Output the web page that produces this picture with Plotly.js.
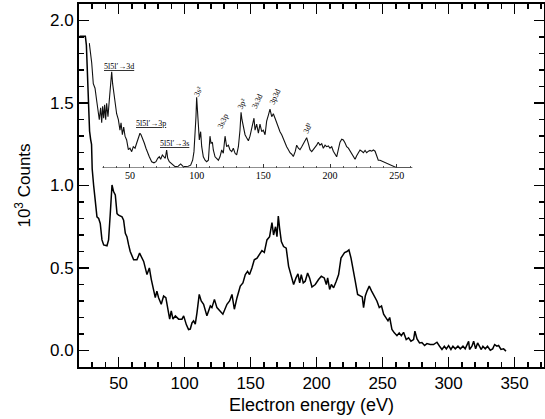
<!DOCTYPE html>
<html>
<head>
<meta charset="utf-8">
<script src="https://cdn.plot.ly/plotly-3.0.1.min.js"></script>
<style>html,body{margin:0;padding:0;background:#fff;}#chart{width:545px;height:419px;}</style>
</head>
<body>
<div id="chart"></div>
<script>
// Main spectrum: electron energy (eV) and counts (10^3)
const mainEnergy = [20.5,24.8,25.6,26.1,26.8,27.3,28.0,28.8,29.5,30.0,30.6,31.1,32.3,33.6,34.9,36.1,37.4,38.7,41.2,42.4,43.7,45.0,46.2,47.5,48.8,50.0,52.6,53.8,55.1,56.3,57.6,58.8,61.4,63.9,65.9,67.7,69.0,71.5,73.3,74.8,76.5,77.8,79.0,80.3,82.3,84.1,85.8,87.4,88.7,89.9,91.2,93.0,95.5,98.0,99.3,101.3,103.0,104.3,105.6,106.8,108.1,109.4,111.1,112.6,114.4,116.9,119.5,120.7,122.6,124.5,127.0,129.0,132.1,134.1,135.9,137.7,139.7,142.2,144.2,146.0,147.7,149.2,151.0,152.8,154.9,156.8,158.6,160.4,162.4,164.4,166.2,167.4,168.9,170.0,171.0,172.0,173.3,175.0,177.0,178.8,180.6,182.6,184.4,185.9,187.2,188.4,189.9,191.4,193.2,194.7,196.5,199.0,201.5,203.6,205.8,207.4,208.4,209.9,211.2,212.9,214.9,216.7,218.5,220.0,221.2,223.0,224.5,226.1,227.6,229.3,231.1,233.1,234.6,235.6,236.9,238.2,239.9,241.7,243.7,245.7,247.5,249.2,250.8,252.5,254.1,255.4,257.1,258.9,260.9,262.6,264.2,265.9,267.9,269.7,271.5,273.5,274.5,276.1,278.0,279.8,281.8,283.6,286.1,288.6,291.2,293.2,295.0,296.8,298.3,300.0,301.8,303.3,305.1,307.1,308.9,310.9,312.6,314.4,315.2,315.9,317.7,319.0,320.5,322.0,323.5,324.8,326.0,327.8,329.5,331.6,333.4,334.9,336.6,337.9,339.7,341.7,343.5];
const mainCounts = [1.905,1.905,1.85,1.75,1.58,1.45,1.33,1.28,1.25,1.10,1.02,1.00,0.91,0.81,0.80,0.77,0.67,0.64,0.635,0.67,0.83,1.003,0.963,0.943,0.83,0.82,0.81,0.79,0.71,0.69,0.64,0.60,0.55,0.55,0.59,0.56,0.54,0.46,0.50,0.43,0.36,0.32,0.36,0.32,0.28,0.33,0.32,0.25,0.19,0.24,0.19,0.21,0.19,0.19,0.21,0.157,0.127,0.13,0.167,0.18,0.16,0.23,0.34,0.30,0.28,0.21,0.27,0.26,0.31,0.26,0.24,0.22,0.28,0.30,0.34,0.25,0.32,0.39,0.41,0.46,0.48,0.46,0.50,0.55,0.56,0.58,0.606,0.594,0.67,0.69,0.775,0.70,0.75,0.69,0.815,0.74,0.66,0.63,0.62,0.51,0.45,0.40,0.44,0.465,0.41,0.46,0.41,0.42,0.47,0.44,0.385,0.40,0.43,0.45,0.44,0.40,0.44,0.37,0.40,0.38,0.42,0.46,0.56,0.58,0.594,0.60,0.61,0.56,0.48,0.42,0.34,0.33,0.325,0.26,0.33,0.36,0.39,0.36,0.33,0.30,0.26,0.27,0.22,0.20,0.18,0.20,0.127,0.107,0.09,0.107,0.09,0.11,0.066,0.077,0.056,0.066,0.117,0.07,0.046,0.048,0.03,0.042,0.036,0.036,0.05,0.026,0.006,0.026,0.01,0.03,0.006,0.026,0.01,0.026,0.01,0.026,0.01,0.042,0.056,0.006,0.026,0.056,0.01,0.046,0.026,0.006,0.026,0.01,0.026,0.002,0.01,0.036,0.026,0.03,0.006,0.01,-0.004];

// Inset spectrum: energy (eV) and relative intensity (arbitrary units)
const insetEnergy = [19.5,21.3,22.5,23.8,25.0,26.3,27.0,28.0,28.8,29.5,30.3,31.0,31.8,32.5,33.5,34.5,35.5,36.3,37.0,38.0,39.0,40.0,41.3,42.5,43.3,44.3,45.3,46.3,47.5,48.8,50.0,51.3,52.5,53.8,55.0,56.3,57.5,58.3,59.5,60.8,62.0,63.3,64.5,66.3,68.0,69.5,70.8,72.0,73.0,74.3,75.5,76.5,77.5,78.3,79.5,81.3,83.8,86.2,88.0,90.0,92.0,93.7,95.5,97.0,98.0,98.8,99.5,100.0,100.5,101.3,102.0,103.0,103.8,105.0,106.3,107.5,108.8,110.0,110.8,111.8,112.5,113.8,115.0,116.3,117.5,118.8,120.0,121.3,122.5,123.8,125.0,126.3,127.5,128.8,130.0,131.3,132.5,133.3,134.0,135.0,136.3,137.5,138.8,140.0,141.3,142.5,143.0,143.8,145.0,146.3,147.5,148.8,150.0,151.3,152.5,153.8,155.0,156.3,157.5,158.8,160.0,161.3,162.5,163.8,165.0,166.3,167.5,168.8,170.0,171.3,172.5,174.0,175.0,176.3,177.5,178.8,180.0,181.3,182.5,183.8,185.0,186.3,187.5,188.8,190.0,191.2,192.5,193.8,195.0,196.3,197.5,198.8,200.0,201.3,202.5,205.0,206.3,207.5,208.8,210.0,211.3,212.5,213.8,215.0,216.3,217.5,218.8,220.0,221.3,222.5,223.8,225.0,226.3,227.5,228.8,230.0,231.3,232.5,233.8,235.0,236.2,237.5,240.0,242.5,245.0,247.5,250.0,261.3];
const insetIntensity = [0.83,0.70,0.56,0.53,0.45,0.36,0.32,0.40,0.30,0.41,0.33,0.42,0.32,0.43,0.34,0.45,0.54,0.64,0.56,0.50,0.43,0.36,0.32,0.25,0.30,0.22,0.27,0.21,0.185,0.12,0.13,0.107,0.14,0.13,0.163,0.196,0.23,0.22,0.185,0.163,0.13,0.096,0.073,0.04,0.033,0.04,0.063,0.073,0.056,0.085,0.073,0.063,0.118,0.063,0.04,0.025,0.007,0.01,0.025,0.007,0.007,0.01,0.017,0.05,0.107,0.21,0.34,0.47,0.41,0.25,0.185,0.24,0.14,0.073,0.05,0.04,0.05,0.21,0.163,0.17,0.118,0.073,0.063,0.05,0.073,0.118,0.096,0.21,0.14,0.15,0.118,0.107,0.13,0.096,0.085,0.14,0.25,0.37,0.32,0.27,0.22,0.20,0.18,0.21,0.27,0.30,0.33,0.25,0.29,0.23,0.29,0.24,0.25,0.22,0.31,0.35,0.39,0.34,0.36,0.33,0.30,0.27,0.24,0.22,0.19,0.165,0.14,0.12,0.10,0.09,0.075,0.11,0.15,0.13,0.12,0.14,0.16,0.18,0.20,0.16,0.12,0.107,0.12,0.14,0.15,0.17,0.15,0.16,0.13,0.15,0.14,0.145,0.13,0.14,0.11,0.073,0.12,0.17,0.19,0.185,0.165,0.14,0.13,0.11,0.09,0.075,0.056,0.08,0.10,0.118,0.11,0.10,0.115,0.10,0.11,0.115,0.11,0.118,0.11,0.08,0.05,0.05,0.04,0.03,0.02,0.011,0.0,0.0];

// Inset tick labels
const insetTicks = [50,100,150,200,250];
const insetMinorTicks = [30,40,60,70,80,90,110,120,130,140,160,170,180,190,210,220,230,240,260];

// Inset peak labels
const labelText = ["<u>5l5l′→3d</u>","<u>5l5l′→3p</u>","<u>5l5l′→3s</u>","3s²","3s3p","3p²","3s3d","3p3d","3d²"];
const labelEnergy = [42.0,65.4,83.2,101.4,119.4,134.4,145.5,158.9,183.5];
const labelLevel = [0.673,0.298,0.161,0.505,0.311,0.425,0.44,0.474,0.268];
const labelAngle = [0,0,0,-65,-65,-65,-65,-65,-65];

const xRange = [20, 372.3];
const yRange = [-0.1, 2.1];

const traces = [
  {x: mainEnergy, y: mainCounts, mode: 'lines', line: {color: '#000', width: 1.5}, xaxis: 'x', yaxis: 'y', hoverinfo: 'skip'},
  {x: insetEnergy, y: insetIntensity, mode: 'lines', line: {color: '#111', width: 1.1}, xaxis: 'x2', yaxis: 'y2', hoverinfo: 'skip'},
  {x: [], y: [], mode: 'lines', xaxis: 'x3', yaxis: 'y3', hoverinfo: 'skip'},
  {x: [], y: [], mode: 'lines', xaxis: 'x4', yaxis: 'y4', hoverinfo: 'skip'}
];

const annotations = labelText.map((t, i) => ({
  text: t, x: labelEnergy[i], y: labelLevel[i], xref: 'x2', yref: 'y2',
  showarrow: false, textangle: labelAngle[i],
  font: {family: 'Liberation Serif', size: 8, color: '#000'},
  xanchor: 'center', yanchor: 'middle'
}));

const base = {tickwidth: 1.5, tickcolor: '#000', showgrid: false, zeroline: false, ticks: 'inside'};

const layout = {
  width: 545, height: 419,
  margin: {l: 79, r: 1, t: 4, b: 52},
  paper_bgcolor: '#fff', plot_bgcolor: 'rgba(0,0,0,0)',
  showlegend: false,
  font: {family: 'Liberation Sans', color: '#000'},
  xaxis: Object.assign({}, base, {
    domain: [0, 1], range: xRange, anchor: 'y',
    showline: true, linewidth: 2, linecolor: '#000', mirror: true,
    ticklen: 10, tick0: 0, dtick: 50,
    minor: {tick0: 0, dtick: 10, ticks: 'inside', ticklen: 5, tickwidth: 1.5, tickcolor: '#000'},
    tickfont: {family: 'Liberation Sans', size: 17, color: '#000'},
    title: {text: 'Electron energy (eV)', font: {family: 'Liberation Sans', size: 18, color: '#000'}, standoff: 6}
  }),
  yaxis: Object.assign({}, base, {
    domain: [0, 1], range: yRange, anchor: 'x',
    showline: true, linewidth: 2, linecolor: '#000', mirror: true,
    ticklen: 10, tick0: 0, dtick: 0.5, tickformat: '.1f',
    minor: {tick0: 0, dtick: 0.1, ticks: 'inside', ticklen: 5, tickwidth: 1.5, tickcolor: '#000'},
    tickfont: {family: 'Liberation Sans', size: 17, color: '#000'},
    title: {text: '10<sup>3</sup> Counts', font: {family: 'Liberation Sans', size: 17, color: '#000'}, standoff: 15}
  }),
  // mirrored ticks on top / right (major)
  xaxis3: Object.assign({}, base, {overlaying: 'x', side: 'top', anchor: 'y3', range: xRange,
    showline: false, showticklabels: false, ticklen: 10, tick0: 0, dtick: 50}),
  yaxis3: Object.assign({}, base, {overlaying: 'y', side: 'right', anchor: 'x3', range: yRange,
    showline: false, showticklabels: false, ticklen: 10, tick0: 0, dtick: 0.5}),
  // mirrored ticks on top / right (minor)
  xaxis4: Object.assign({}, base, {overlaying: 'x', side: 'top', anchor: 'y4', range: xRange,
    showline: false, showticklabels: false, ticklen: 5, tick0: 0, dtick: 10}),
  yaxis4: Object.assign({}, base, {overlaying: 'y', side: 'right', anchor: 'x4', range: yRange,
    showline: false, showticklabels: false, ticklen: 5, tick0: 0, dtick: 0.1}),
  xaxis2: {
    domain: [0.0207, 0.7176], range: [19, 262], anchor: 'y2',
    showline: false, showgrid: false, zeroline: false,
    ticks: 'inside', ticklen: 4, tickwidth: 1, tickcolor: '#333',
    tickmode: 'array', tickvals: insetTicks, ticktext: insetTicks.map(String),
    minor: {tickmode: 'array', tickvals: insetMinorTicks, ticks: 'inside', ticklen: 2, tickwidth: 1, tickcolor: '#555'},
    tickfont: {family: 'Liberation Serif', size: 10, color: '#000'}
  },
  yaxis2: {
    domain: [0.549, 0.9623], range: [0, 1], anchor: 'x2', visible: false
  },
  shapes: [
    {type: 'line', xref: 'x2', yref: 'y2', x0: 29.3, x1: 262, y0: 0, y1: 0, line: {color: '#444', width: 1}}
  ],
  annotations: annotations
};

Plotly.newPlot('chart', traces, layout, {staticPlot: true, displayModeBar: false});
</script>
</body>
</html>
